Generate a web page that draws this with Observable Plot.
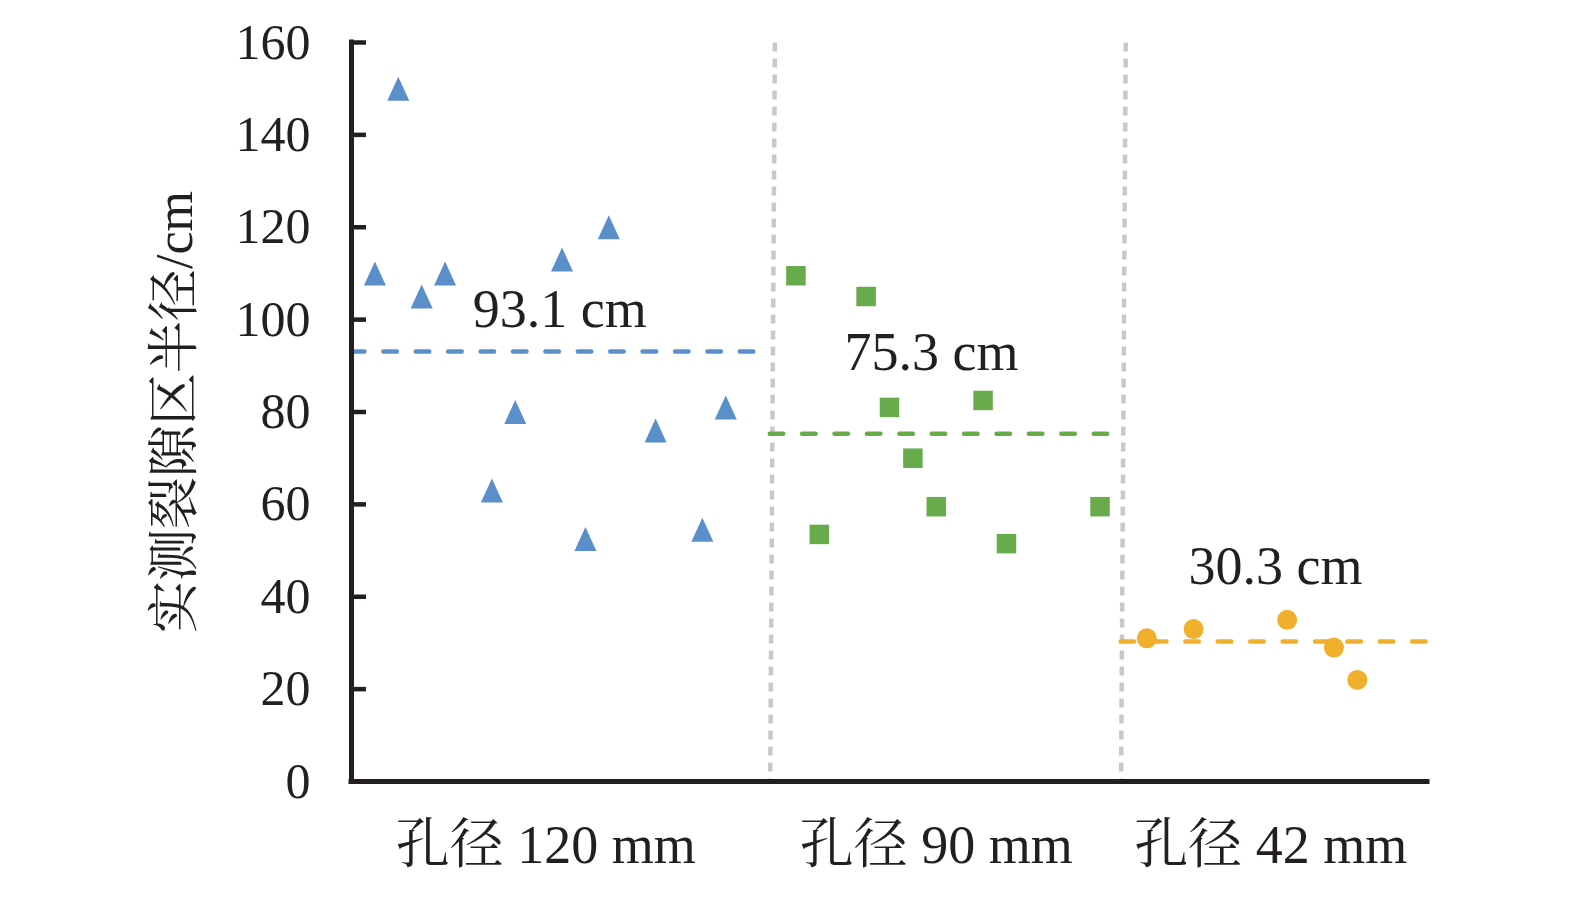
<!DOCTYPE html>
<html>
<head>
<meta charset="utf-8">
<script src="https://cdn.jsdelivr.net/npm/d3@7"></script>
<script src="https://cdn.jsdelivr.net/npm/@observablehq/plot@0.6"></script>
<style>
  html, body { margin: 0; padding: 0; background: #fff; }
</style>
</head>
<body>
<div id="chart"></div>
<script>
// ---- data ----
const groupNames = ["孔径 120 mm", "孔径 90 mm", "孔径 42 mm"];
const groupMeans = [93.1, 75.3, 30.3];
const meanLabels = ["93.1 cm", "75.3 cm", "30.3 cm"];

const x120 = [1, 2, 3, 4, 6, 7, 9, 10, 11, 13, 15, 16];
const y120 = [110, 150, 105, 110, 63, 80, 113, 52.5, 120, 76, 54.5, 81];

const x90 = [19, 20, 22, 23, 24, 25, 27, 28, 32];
const y90 = [109.5, 53.5, 105, 81, 70, 59.5, 82.5, 51.5, 59.5];

const x42 = [34, 36, 40, 42, 43];
const y42 = [31, 33, 35, 29, 22];

const yTicks = [0, 20, 40, 60, 80, 100, 120, 140, 160];

// group extents along the (hidden) sample-index axis
const groupStart = [0, 17.9, 32.9];
const groupEnd = [17.8, 32.4, 46];
// separator lines (slightly slanted in the original)
const sepTop = [18.1, 33.1];
const sepBottom = [17.9, 32.9];
// annotation anchors
const labelX = [8.9, 24.8, 39.5];
const labelY = [102.1, 92.9, 46.4];
const catX = [8.3, 25.0, 39.3];

// ---- build ----
const W = 1575, H = 898;
const mL = 351, mR = 148, mT = 42, mB = 117;
const xDomain = [0, 46];
const tickLenPx = 15;
const tickLenUnits = tickLenPx / ((W - mL - mR) / (xDomain[1] - xDomain[0]));
const colors = ["#5B8FC9", "#67AB4B", "#F0AF2C"];
const ink = "#231f20";
const serif = "'Liberation Serif', 'Times New Roman', 'Noto Serif CJK SC', 'Noto Sans CJK SC', serif";

const pts120 = x120.map((x, i) => ({x, y: y120[i]}));
const pts90 = x90.map((x, i) => ({x, y: y90[i]}));
const pts42 = x42.map((x, i) => ({x, y: y42[i]}));

const groups = groupNames.map((name, i) => ({
  name, mean: groupMeans[i], label: meanLabels[i],
  x1: groupStart[i], x2: groupEnd[i], lx: labelX[i], ly: labelY[i], cx: catX[i], color: colors[i]
}));
const seps = sepTop.map((t, i) => ({top: t, bottom: sepBottom[i]}));

// isosceles triangle centred on its bounding box (Excel-style marker)
const triangle = {
  draw(context, size) {
    const r = Math.sqrt(size / Math.PI);
    context.moveTo(0, -1.2 * r);
    context.lineTo(1.1 * r, 1.2 * r);
    context.lineTo(-1.1 * r, 1.2 * r);
    context.closePath();
  }
};

const chart = Plot.plot({
  width: W,
  height: H,
  marginLeft: mL,
  marginRight: mR,
  marginTop: mT,
  marginBottom: mB,
  x: {domain: xDomain, axis: null},
  y: {domain: [0, 160], axis: null},
  style: {fontFamily: serif, background: "#fff", color: ink, overflow: "visible"},
  marks: [
    // separators
    Plot.link(seps, {x1: "top", y1: () => 160, x2: "bottom", y2: () => 0,
      stroke: "#C8C8C8", strokeWidth: 4.5, strokeDasharray: "9,7"}),
    // mean lines
    Plot.ruleY(groups, {y: "mean", x1: "x1", x2: "x2", stroke: "color",
      strokeWidth: 4.5, strokeDasharray: "13.5,18.9", strokeLinecap: "round"}),
    // points
    Plot.dot(pts120, {x: "x", y: "y", symbol: triangle, r: 10, fill: colors[0], stroke: null}),
    Plot.dot(pts90, {x: "x", y: "y", symbol: "square", r: 11, fill: colors[1], stroke: null}),
    Plot.dot(pts42, {x: "x", y: "y", symbol: "circle", r: 10, fill: colors[2], stroke: null}),
    // mean annotations
    Plot.text(groups, {x: "lx", y: "ly", text: "label", fontSize: 54, fill: ink, fontFamily: serif}),
    // y ticks (inward)
    Plot.ruleY(yTicks, {y: d => d, x1: () => 0, x2: () => tickLenUnits, stroke: ink, strokeWidth: 4.5}),
    // axis lines
    Plot.ruleX([0], {stroke: ink, strokeWidth: 5, strokeLinecap: "square"}),
    Plot.ruleY([0], {stroke: ink, strokeWidth: 5, strokeLinecap: "square"}),
    // y tick labels
    Plot.axisY({ticks: yTicks, tickSize: 0, tickPadding: 41, tickFormat: d => String(d),
      fontSize: 50, fill: ink, fontFamily: serif}),
    // y-axis title
    Plot.text(["实测裂隙区半径/cm"], {frameAnchor: "left", textAnchor: "middle", rotate: -90, dx: -176,
      text: d => d, fontSize: 52, fill: ink, fontFamily: serif}),
    // category labels under the x-axis
    Plot.text(groups, {x: "cx", y: () => 0, dy: 64, text: "name", fontSize: 54, fill: ink, fontFamily: serif})
  ]
});

document.getElementById("chart").appendChild(chart);
</script>
</body>
</html>
